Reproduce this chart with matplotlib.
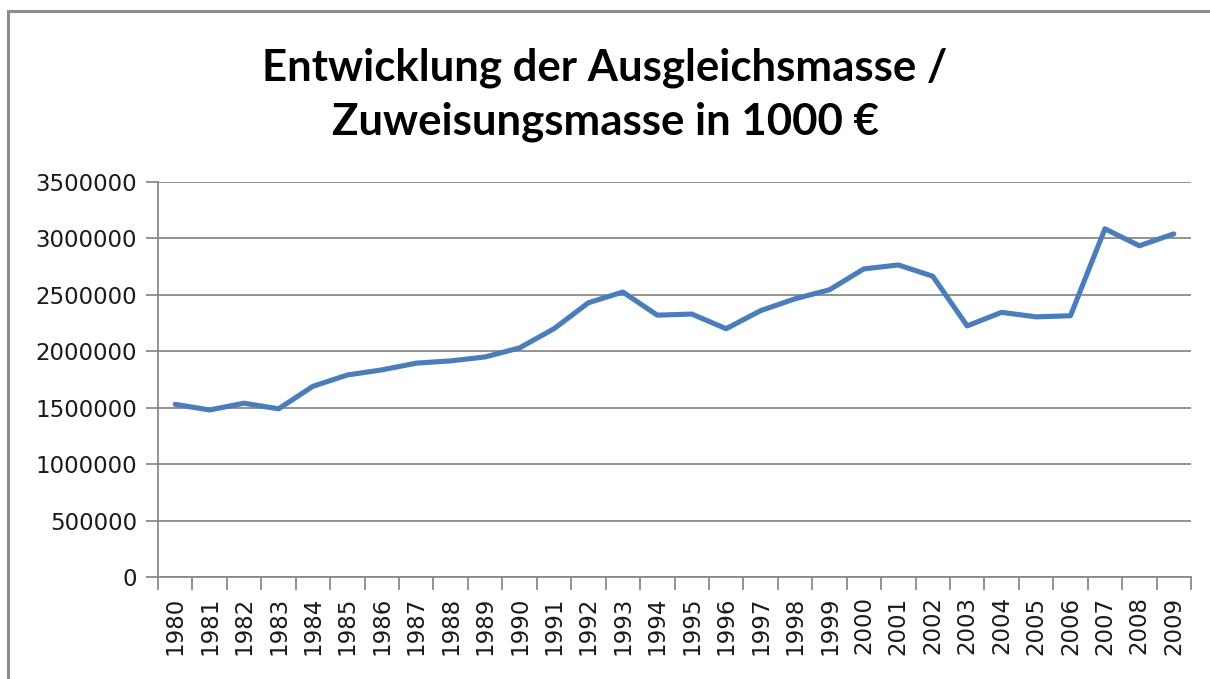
import numpy as np
import matplotlib
matplotlib.use("Agg")
import matplotlib.pyplot as plt
from matplotlib.patches import Rectangle

years = [str(y) for y in range(1980, 2010)]
masse = [1530000, 1480000, 1540000, 1490000, 1690000, 1790000, 1835000, 1895000,
         1915000, 1950000, 2030000, 2200000, 2430000, 2525000, 2320000, 2330000,
         2200000, 2360000, 2465000, 2545000, 2730000, 2765000, 2665000, 2225000,
         2345000, 2305000, 2315000, 3085000, 2935000, 3040000]
yticks = [0, 500000, 1000000, 1500000, 2000000, 2500000, 3000000, 3500000]
title = "Entwicklung der Ausgleichsmasse /\nZuweisungsmasse in 1000 €"

plt.rcParams["font.family"] = ["DejaVu Sans"]

W, H = 1210, 679
fig = plt.figure(figsize=(W / 100, H / 100), dpi=100)
fig.patch.set_facecolor("white")

# chart frame (runs off the right/bottom edge like the screenshot)
fig.add_artist(Rectangle((8 / W, -0.05), 1.2, 1 - 11 / H + 0.05, transform=fig.transFigure,
                         fill=False, edgecolor="#8c8c8c", lw=2.2))

ax = fig.add_axes([158 / W, 1 - 577 / H, (1191 - 158) / W, (577 - 182) / H])
x = np.arange(len(years))
ax.plot(x, masse, color="#4a7ebb", lw=3.7, solid_joinstyle="round", solid_capstyle="round")

ax.set_xlim(-0.5, len(years) - 0.5)
ax.set_ylim(0, 3500000)
ax.set_yticks(yticks)
ax.set_yticklabels([str(v) for v in yticks])
ax.set_xticks(x)
ax.set_xticklabels(years, rotation=90)
ax.set_xticks(np.arange(-0.5, len(years)), minor=True)

ax.grid(axis="y", color="#8a8a8a", lw=1.3)
ax.set_axisbelow(True)
for s in ["top", "right"]:
    ax.spines[s].set_visible(False)
for s in ["left", "bottom"]:
    ax.spines[s].set_color("#8a8a8a")
    ax.spines[s].set_linewidth(1.3)

ax.tick_params(axis="y", length=9, width=1.3, color="#8a8a8a", labelsize=16.5, pad=6,
               labelcolor="#1a1a1a")
ax.tick_params(axis="x", which="major", length=0, labelsize=16.5, pad=14, labelcolor="#1a1a1a")
ax.tick_params(axis="x", which="minor", length=9, width=1.3, color="#8a8a8a")

fig.text(0.5, 1 - 95 / H, title, ha="center", va="center", fontsize=31.5, fontweight="bold",
         family=["Lato", "DejaVu Sans"], linespacing=1.4, color="black")

fig.savefig("out.png", dpi=100, facecolor="white")
